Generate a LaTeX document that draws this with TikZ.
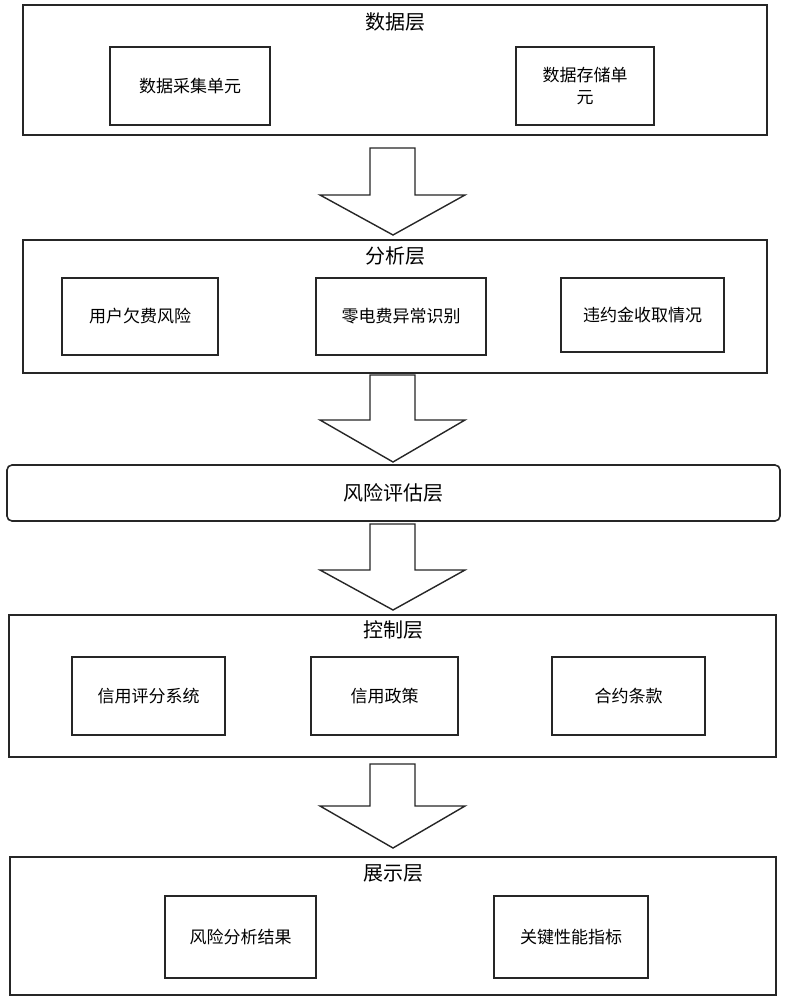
\documentclass[tikz,border=0pt]{standalone}
\usepackage{fontspec}
\setmainfont{Noto Sans CJK SC}
\begin{document}
\begin{tikzpicture}[x=1pt,y=-1pt,
  box/.style={draw=black!85,line width=1.6pt},
  inner/.style={draw=black!85,line width=1.4pt,font=\fontsize{17}{22}\selectfont},
  ttl/.style={font=\fontsize{20}{24}\selectfont},
  arr/.style={draw=black!85,line width=1.4pt,fill=white}]
\useasboundingbox (0,0) rectangle (787,1000);
\newcommand{\myarrow}[3]{% top, headtop, tip
  \draw[arr] (370,#1) -- (415,#1) -- (415,#2) -- (465,#2) -- (393,#3) -- (320,#2) -- (370,#2) -- cycle;}
% data layer
\draw[box] (23,5) rectangle (767,135);
\node[ttl] (t1) at (395,22) {数据层};
\draw[inner] (110,47) rectangle (270,125) node[midway] (d1) {数据采集单元};
\draw[inner] (516,47) rectangle (654,125) node[midway,align=center] (d2) {数据存储单\\元};
\myarrow{148}{195}{235}
% analysis
\draw[box] (23,240) rectangle (767,373);
\node[ttl] (t2) at (395,256) {分析层};
\draw[inner] (62,278) rectangle (218,355) node[midway] (a1) {用户欠费风险};
\draw[inner] (316,278) rectangle (486,355) node[midway] (a2) {零电费异常识别};
\draw[inner] (561,278) rectangle (724,352) node[midway] (a3) {违约金收取情况};
\myarrow{375}{420}{462}
% risk
\draw[box,rounded corners=5pt] (7,465) rectangle (780,521) node[midway,ttl] (r) {风险评估层};
\myarrow{524}{570}{610}
% control
\draw[box] (9,615) rectangle (776,757);
\node[ttl] (t3) at (393,630) {控制层};
\draw[inner] (72,657) rectangle (225,735) node[midway] (c1) {信用评分系统};
\draw[inner] (311,657) rectangle (458,735) node[midway] (c2) {信用政策};
\draw[inner] (552,657) rectangle (705,735) node[midway] (c3) {合约条款};
\myarrow{764}{806}{848}
% display
\draw[box] (10,857) rectangle (776,995);
\node[ttl] (t4) at (393,873) {展示层};
\draw[inner] (165,896) rectangle (316,978) node[midway] (e1) {风险分析结果};
\draw[inner] (494,896) rectangle (648,978) node[midway] (e2) {关键性能指标};
\end{tikzpicture}
\end{document}
